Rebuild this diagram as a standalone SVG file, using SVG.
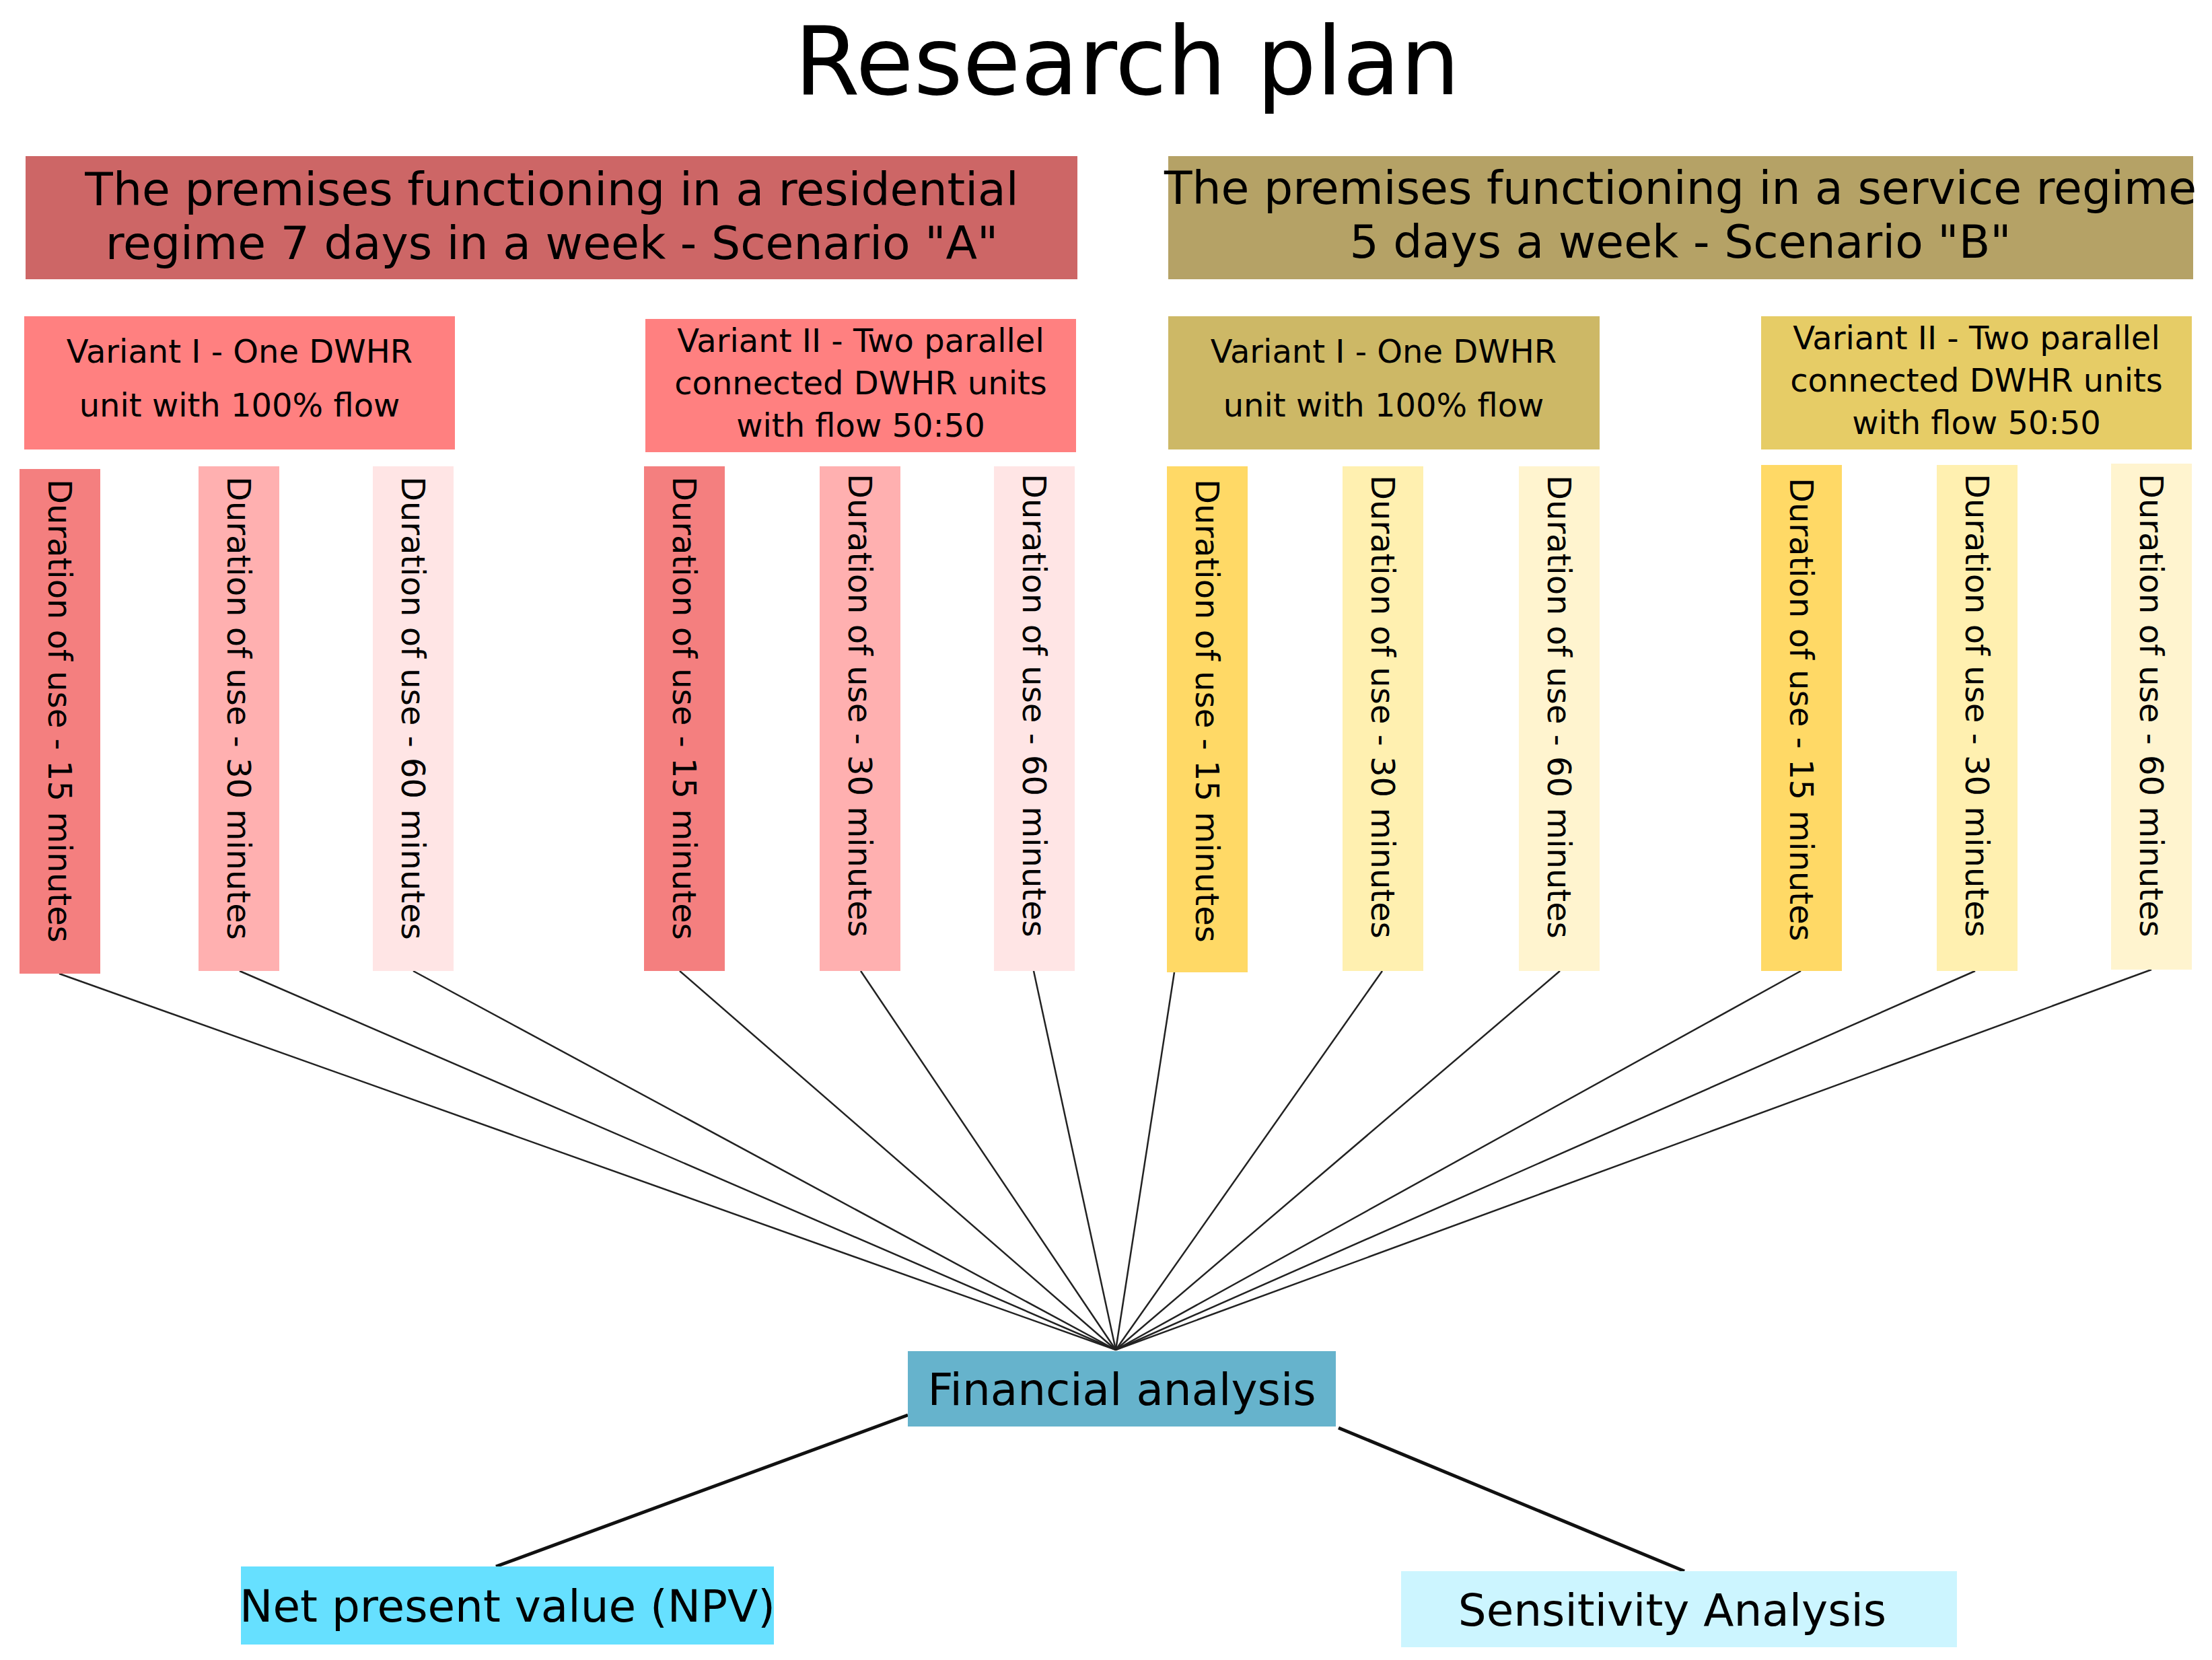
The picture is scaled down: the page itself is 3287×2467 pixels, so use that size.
<svg xmlns="http://www.w3.org/2000/svg" width="3287" height="2467" viewBox="0 0 3287 2467">
<style>
text{font-family:"DejaVu Sans",Verdana,sans-serif;fill:#000}
.h{font-size:68px;text-anchor:middle}
.v{font-size:48px;text-anchor:middle}
.d{font-size:48px}
.c{stroke:#222;stroke-width:2.5;fill:none}
.c2{stroke:#111;stroke-width:5;fill:none}
</style>
<rect width="3287" height="2467" fill="#fff"/>
<text x="1675" y="140" font-size="140" text-anchor="middle">Research plan</text>
<g id="connectors">
<line class="c" x1="88" y1="1447" x2="1658" y2="2006"/>
<line class="c" x1="356" y1="1443" x2="1658" y2="2006"/>
<line class="c" x1="614" y1="1443" x2="1658" y2="2006"/>
<line class="c" x1="1010" y1="1443" x2="1658" y2="2006"/>
<line class="c" x1="1279" y1="1443" x2="1658" y2="2006"/>
<line class="c" x1="1536" y1="1443" x2="1658" y2="2006"/>
<line class="c" x1="1745" y1="1445" x2="1658" y2="2006"/>
<line class="c" x1="2054" y1="1443" x2="1658" y2="2006"/>
<line class="c" x1="2318" y1="1443" x2="1658" y2="2006"/>
<line class="c" x1="2676" y1="1443" x2="1658" y2="2006"/>
<line class="c" x1="2935" y1="1443" x2="1658" y2="2006"/>
<line class="c" x1="3197" y1="1441" x2="1658" y2="2006"/>
<line class="c2" x1="1349" y1="2103" x2="737" y2="2328"/>
<line class="c2" x1="1989" y1="2122" x2="2503" y2="2335"/>
</g>
<g id="scenarioA"><rect x="38" y="232" width="1563" height="183" fill="#cd6666"/>
<text class="h" x="820" y="305">The premises functioning in a residential</text>
<text class="h" x="820" y="385">regime 7 days in a week - Scenario "A"</text></g>
<g id="scenarioB"><rect x="1736" y="232" width="1523" height="183" fill="#b5a266"/>
<text class="h" x="2497" y="303">The premises functioning in a service regime</text>
<text class="h" x="2497" y="383">5 days a week - Scenario "B"</text></g>
<g id="varAI"><rect x="36" y="470" width="640" height="198" fill="#ff8080"/>
<text class="v" x="356" y="539">Variant I - One DWHR</text>
<text class="v" x="356" y="619">unit with 100% flow</text></g>
<g id="varAII"><rect x="959" y="474" width="640" height="198" fill="#ff8080"/>
<text class="v" x="1279" y="523">Variant II - Two parallel</text>
<text class="v" x="1279" y="586">connected DWHR units</text>
<text class="v" x="1279" y="649">with flow 50:50</text></g>
<g id="varBI"><rect x="1736" y="470" width="641" height="198" fill="#cdb866"/>
<text class="v" x="2056" y="539">Variant I - One DWHR</text>
<text class="v" x="2056" y="619">unit with 100% flow</text></g>
<g id="varBII"><rect x="2617" y="470" width="640" height="198" fill="#e6cc66"/>
<text class="v" x="2937" y="519">Variant II - Two parallel</text>
<text class="v" x="2937" y="582">connected DWHR units</text>
<text class="v" x="2937" y="645">with flow 50:50</text></g>
<g id="a1"><rect x="29" y="697" width="120" height="750" fill="#f47f7f"/><text class="d" transform="translate(72,712) rotate(90)">Duration of use  - 15 minutes</text></g>
<g id="a2"><rect x="295" y="693" width="120" height="750" fill="#ffb0b0"/><text class="d" transform="translate(338,708) rotate(90)">Duration of use  - 30 minutes</text></g>
<g id="a3"><rect x="554" y="693" width="120" height="750" fill="#ffe5e5"/><text class="d" transform="translate(597,708) rotate(90)">Duration of use  - 60 minutes</text></g>
<g id="a4"><rect x="957" y="693" width="120" height="750" fill="#f47f7f"/><text class="d" transform="translate(1000,708) rotate(90)">Duration of use  - 15 minutes</text></g>
<g id="a5"><rect x="1218" y="693" width="120" height="750" fill="#ffb0b0"/><text class="d" transform="translate(1261,704) rotate(90)">Duration of use  - 30 minutes</text></g>
<g id="a6"><rect x="1477" y="693" width="120" height="750" fill="#ffe5e5"/><text class="d" transform="translate(1520,704) rotate(90)">Duration of use  - 60 minutes</text></g>
<g id="b1"><rect x="1734" y="693" width="120" height="752" fill="#ffd966"/><text class="d" transform="translate(1777,712) rotate(90)">Duration of use  - 15 minutes</text></g>
<g id="b2"><rect x="1995" y="693" width="120" height="750" fill="#fff0b0"/><text class="d" transform="translate(2038,706) rotate(90)">Duration of use  - 30 minutes</text></g>
<g id="b3"><rect x="2257" y="693" width="120" height="750" fill="#fff4cf"/><text class="d" transform="translate(2300,706) rotate(90)">Duration of use  - 60 minutes</text></g>
<g id="b4"><rect x="2617" y="691" width="120" height="752" fill="#ffd966"/><text class="d" transform="translate(2660,710) rotate(90)">Duration of use  - 15 minutes</text></g>
<g id="b5"><rect x="2878" y="691" width="120" height="752" fill="#fff0b0"/><text class="d" transform="translate(2921,704) rotate(90)">Duration of use  - 30 minutes</text></g>
<g id="b6"><rect x="3137" y="689" width="120" height="752" fill="#fff4cf"/><text class="d" transform="translate(3180,704) rotate(90)">Duration of use  - 60 minutes</text></g>
<g id="financial"><rect x="1349" y="2008" width="636" height="112" fill="#66b3cc"/>
<text x="1667" y="2088" font-size="66" text-anchor="middle">Financial analysis</text></g>
<g id="npv"><rect x="358" y="2328" width="792" height="116" fill="#66e0ff"/>
<text x="754" y="2410" font-size="66" text-anchor="middle">Net present value (NPV)</text></g>
<g id="sens"><rect x="2082" y="2335" width="826" height="113" fill="#ccf5ff"/>
<text x="2485" y="2416" font-size="66" text-anchor="middle">Sensitivity Analysis</text></g>
</svg>
